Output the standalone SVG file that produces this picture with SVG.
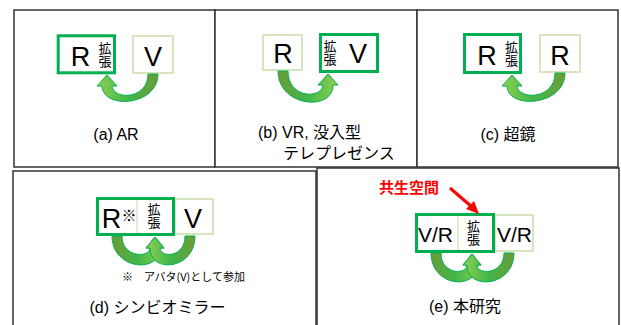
<svg xmlns="http://www.w3.org/2000/svg" width="621" height="325" viewBox="0 0 621 325">
<style>
text{font-family:"Liberation Sans","Noto Sans CJK JP",sans-serif;fill:#000}
.panel{fill:#fff;stroke:#333;stroke-width:1.5}
.ext{fill:#fff;stroke:#00b050;stroke-width:3}
.lt{fill:#fff;stroke:#d7e4bd;stroke-width:2}
.div{stroke:#d7e4bd;stroke-width:1.5}
.big{font-size:27px;text-anchor:middle}
.vr{font-size:21px;text-anchor:middle}
.kc{font-size:13px;writing-mode:vertical-rl;font-family:"Noto Sans CJK JP",sans-serif}
.lab{font-size:16px;font-family:"Liberation Sans","Noto Sans CJK JP",sans-serif}
.note{font-size:11px;font-family:"Noto Sans CJK JP",sans-serif}
.arL{fill:url(#gL);stroke:#00b050;stroke-width:1}
.arR{fill:url(#gR);stroke:#00b050;stroke-width:1}
</style>
<defs>
<linearGradient id="gR" x1="0" y1="0" x2="1" y2="0">
<stop offset="0" stop-color="#92d050"/><stop offset="0.5" stop-color="#3fb84c"/><stop offset="1" stop-color="#6f9a36"/>
</linearGradient>
<linearGradient id="gL" x1="0" y1="0" x2="1" y2="0">
<stop offset="0" stop-color="#6f9a36"/><stop offset="0.5" stop-color="#3fb84c"/><stop offset="1" stop-color="#92d050"/>
</linearGradient>
</defs>

<g id="panels">
<rect class="panel" x="14" y="10" width="201" height="157"/>
<rect class="panel" x="215" y="10" width="202" height="157"/>
<rect class="panel" x="417" y="10" width="201" height="157"/>
<rect class="panel" x="13" y="171" width="303" height="160"/>
<rect class="panel" x="317" y="168" width="302" height="163"/>
</g>

<g id="panel-a">
<g id="a-rext"><rect class="ext" x="58.2" y="35.8" width="56.3" height="37"/><text class="big" x="80.5" y="66">R</text><text class="kc" x="105" y="42">拡張</text></g>
<g id="a-v"><rect class="lt" x="133" y="36" width="40" height="37"/><text class="big" x="153" y="66">V</text></g>
<text class="lab" x="116" y="140" text-anchor="middle">(a) AR</text>
</g>

<g id="panel-b">
<g id="b-r"><rect class="lt" x="263" y="35" width="39" height="35"/><text class="big" x="283" y="63">R</text></g>
<g id="b-vext"><rect class="ext" x="320.5" y="34.5" width="57" height="37"/><text class="kc" x="330" y="39.5">拡張</text><text class="big" x="358" y="63">V</text></g>
<text class="lab" x="258" y="138">(b) VR, 没入型</text>
<text class="lab" x="283" y="159">テレプレゼンス</text>
</g>

<g id="panel-c">
<g id="c-rext"><rect class="ext" x="464.5" y="34.5" width="56" height="38"/><text class="big" x="487" y="65">R</text><text class="kc" x="511.5" y="41">拡張</text></g>
<g id="c-r"><rect class="lt" x="540" y="35" width="40" height="37"/><text class="big" x="560" y="65">R</text></g>
<text class="lab" x="508" y="140" text-anchor="middle">(c) 超鏡</text>
</g>

<g id="panel-d">
<g id="d-v"><rect class="lt" x="175" y="199" width="38" height="35"/><text class="big" x="193" y="228">V</text></g>
<g id="d-rext"><rect class="ext" x="97.5" y="198.5" width="76" height="36"/><line class="div" x1="137" y1="200" x2="137" y2="233"/><text x="111.5" y="228" font-size="27" text-anchor="middle">R<tspan x="129" y="221" font-size="15" font-family="Noto Sans CJK JP,sans-serif">※</tspan></text><text class="kc" x="154" y="202.5">拡張</text></g>
<text class="note" x="122" y="281">※<tspan x="144">アバタ(V)として参加</tspan></text>
<text class="lab" x="157.5" y="313" text-anchor="middle">(d) シンビオミラー</text>
</g>

<g id="panel-e">
<g id="e-vr2"><rect class="lt" x="495" y="215" width="38" height="36"/><text class="vr" x="514.5" y="242">V/R</text></g>
<g id="e-ext"><rect class="ext" x="416.5" y="214.5" width="77" height="37"/><line class="div" x1="458" y1="216" x2="458" y2="250"/><text class="vr" x="435.5" y="242">V/R</text><text class="kc" x="473.5" y="220">拡張</text></g>
<text x="409" y="193" font-size="15" font-weight="bold" text-anchor="middle" style="fill:#ff0000;font-family:'Noto Sans CJK JP',sans-serif">共生空間</text>
<text class="lab" x="465" y="312" text-anchor="middle">(e) 本研究</text>
</g>

<g id="connectors">
<path class="arR" d="M158 74 C158 106,103 110,102 86 L97 86 L107 75 L117 86 L112 86 C113 100,148 100,148 74 Z"/>
<path class="arL" d="M278 71 C278 107,333 112,333 85 L338 85 L328 74 L318 85 L323 85 C322 99,288 99,288 71 Z"/>
<path class="arR" d="M565 73 C565 106,508 110,507 86 L502 86 L512 75 L522 86 L517 86 C518 100,555 100,555 73 Z"/>
<path class="arL" d="M112 236 C112 270,160 274,160 248 L164 248 L155 237 L146 248 L150 248 C150 258,122 258,122 236 Z"/>
<path class="arR" d="M195 236 C195 270,150 274,150 248 L146 248 L155 237 L164 248 L160 248 C160 258,185 258,185 236 Z"/>
<path class="arL" d="M431 253 C431 287,477 291,477 265 L481 265 L472 254 L463 265 L467 265 C467 275,441 275,441 253 Z"/>
<path class="arR" d="M514 253 C514 287,467 291,467 265 L463 265 L472 254 L481 265 L477 265 C477 275,504 275,504 253 Z"/>
<line x1="450" y1="188" x2="472" y2="207" stroke="#ff0000" stroke-width="3"/>
<polygon points="479,214 466,209 474,201" fill="#ff0000"/>
</g>
</svg>
